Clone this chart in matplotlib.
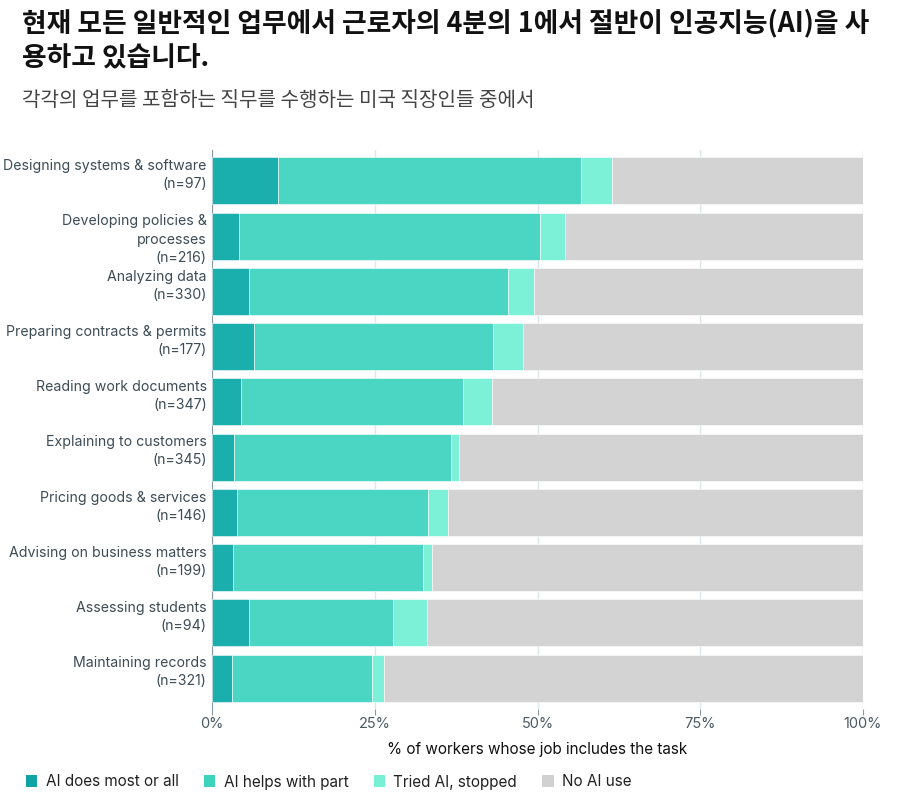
import numpy as np
import matplotlib.pyplot as plt
from matplotlib.patches import Patch
from matplotlib.transforms import blended_transform_factory

plt.rcParams['font.family'] = ['Inter', 'Noto Sans CJK KR', 'DejaVu Sans']

# data (percent of workers)
tasks = ['Designing systems & software\n(n=97)',
         'Developing policies &\nprocesses\n(n=216)',
         'Analyzing data\n(n=330)',
         'Preparing contracts & permits\n(n=177)',
         'Reading work documents\n(n=347)',
         'Explaining to customers\n(n=345)',
         'Pricing goods & services\n(n=146)',
         'Advising on business matters\n(n=199)',
         'Assessing students\n(n=94)',
         'Maintaining records\n(n=321)']
ai_most = [10.2, 4.2, 5.7, 6.5, 4.5, 3.4, 3.9, 3.3, 5.7, 3.1]
ai_part = [46.5, 46.2, 39.8, 36.7, 34.1, 33.3, 29.3, 29.1, 22.1, 21.5]
tried = [4.8, 3.9, 4.0, 4.6, 4.4, 1.3, 3.1, 1.4, 5.3, 1.8]
series_names = ['AI does most or all', 'AI helps with part', 'Tried AI, stopped', 'No AI use']
colors = ['#1aafad', '#4ad6c3', '#7df0d8', '#d2d3d2']
legend_colors = ['#0fa3a3', '#3dd3bd', '#78f0d6', '#d0d1d0']

no_ai = [100 - a - b - c for a, b, c in zip(ai_most, ai_part, tried)]
series = [ai_most, ai_part, tried, no_ai]

fig = plt.figure(figsize=(9.02, 7.98), dpi=100)
ax = fig.add_axes([212 / 902, 1 - 709 / 798, 651 / 902, (709 - 150) / 798])

y = np.arange(len(tasks))
left = np.zeros(len(tasks))
for vals, col in zip(series, colors):
    ax.barh(y, vals, left=left, height=0.85, color=col, edgecolor='white', linewidth=0.4, zorder=3)
    left += np.array(vals)

ax.set_xlim(0, 100)
ax.set_ylim(9.56, -0.56)
ax.set_xticks([0, 25, 50, 75, 100])
ax.set_xticklabels(['0%', '25%', '50%', '75%', '100%'], fontsize=10.5, color='#4a5a63')
ax.grid(axis='x', color='#dde6e8', linewidth=1, zorder=0)
ax.set_yticks([])
ax.tick_params(axis='x', length=4, color='#8a9aa3', pad=2)
for s in ['top', 'right', 'bottom']:
    ax.spines[s].set_visible(False)
ax.spines['left'].set_color('#8a9aa3')
ax.set_xlabel('% of workers whose job includes the task', fontsize=11, color='#111111', labelpad=8)

trans = blended_transform_factory(ax.transAxes, ax.transData)
for i, t in enumerate(tasks):
    ax.text(-0.008, i - 0.425 + 0.03, t, transform=trans, ha='right', va='top',
            fontsize=10.2, color='#3d4c55', linespacing=1.38)

fig.text(22 / 902, 1 - 8 / 798,
         '현재 모든 일반적인 업무에서 근로자의 4분의 1에서 절반이 인공지능(AI)을 사\n용하고 있습니다.',
         ha='left', va='top', fontsize=19.3, fontweight='bold', color='#111111',
         family=['Noto Sans CJK KR', 'DejaVu Sans'], linespacing=1.32)
fig.text(22 / 902, 1 - 90 / 798, '각각의 업무를 포함하는 직무를 수행하는 미국 직장인들 중에서',
         ha='left', va='top', fontsize=14.5, color='#444444',
         family=['Noto Sans CJK KR', 'DejaVu Sans'])

handles = [Patch(facecolor=c, edgecolor='none') for c in legend_colors]
fig.legend(handles, series_names, loc='center left', bbox_to_anchor=(12 / 902, 1 - 782 / 798), ncol=4,
           frameon=False, fontsize=11, handlelength=0.75, handleheight=0.8,
           handletextpad=0.55, columnspacing=1.65, labelcolor='#222222')

fig.savefig('out.png', dpi=100)
